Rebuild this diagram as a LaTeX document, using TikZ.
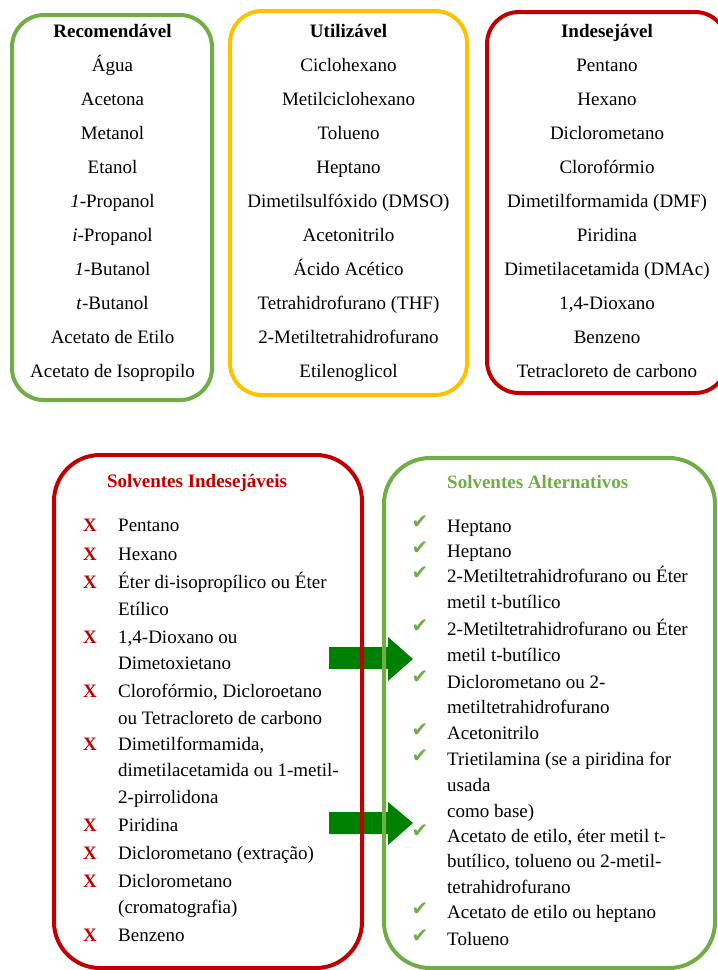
\documentclass[tikz,border=0pt]{standalone}
\usepackage{fontspec}
\setmainfont{Liberation Serif}
\newfontfamily\symfont{DejaVu Sans}
\definecolor{cgreen}{HTML}{70AD47}
\definecolor{cyellow}{HTML}{FFC000}
\definecolor{cred}{HTML}{C00000}
\definecolor{carrow}{HTML}{008000}
\tikzset{
  topbox/.style={line width=4pt, rounded corners=32pt},
  botbox/.style={line width=4pt, rounded corners=46pt},
  citem/.style={anchor=base, inner sep=0pt, font=\fontsize{19}{22}\selectfont},
  ctitle/.style={anchor=base, inner sep=0pt, font=\fontsize{19}{22}\selectfont\bfseries},
  litem/.style={anchor=base west, inner sep=0pt, font=\fontsize{19}{22}\selectfont},
  xmark/.style={anchor=base, inner sep=0pt, text=cred, font=\fontsize{19}{22}\selectfont\bfseries},
  cmark/.style={anchor=base, inner sep=0pt, text=cgreen, font=\symfont\fontsize{20}{24}\selectfont},
  blockarrow/.style={fill=carrow}
}
\begin{document}
\begin{tikzpicture}[x=1pt,y=-1pt]
\useasboundingbox (0,0) rectangle (718,970);
\clip (0,0) rectangle (718,970);

% ---------- top boxes ----------
\draw[topbox, cgreen] (12,15) rectangle (212,400);
\draw[topbox, cyellow] (230,11) rectangle (467,395);
\draw[topbox, cred] (487,12) rectangle (727,393);

\node[ctitle] (gt) at (112.5,37) {Recomendável};
\foreach \t [count=\i] in {Água, Acetona, Metanol, Etanol, {\textit{1}-Propanol}, {\textit{i}-Propanol}, {\textit{1}-Butanol}, {\textit{t}-Butanol}, Acetato de Etilo, Acetato de Isopropilo}
  \node[citem] (g\i) at (112.5,{37+34*\i}) {\t};

\node[ctitle] (yt) at (348.5,37) {Utilizável};
\foreach \t [count=\i] in {Ciclohexano, Metilciclohexano, Tolueno, Heptano, Dimetilsulfóxido (DMSO), Acetonitrilo, Ácido Acético, Tetrahidrofurano (THF), 2-Metiltetrahidrofurano, Etilenoglicol}
  \node[citem] (y\i) at (348.5,{37+34*\i}) {\t};

\node[ctitle] (rt) at (607,37) {Indesejável};
\foreach \t [count=\i] in {Pentano, Hexano, Diclorometano, Clorofórmio, Dimetilformamida (DMF), Piridina, Dimetilacetamida (DMAc), {1,4-Dioxano}, Benzeno, Tetracloreto de carbono}
  \node[citem] (r\i) at (607,{37+34*\i}) {\t};

% ---------- arrows (under the box lines) ----------
\fill[blockarrow] (329,647) -- (388,647) -- (388,637) -- (413,659) -- (388,681) -- (388,669) -- (329,669) -- cycle;
\fill[blockarrow] (329,812) -- (388,812) -- (388,802) -- (413,823) -- (388,845) -- (388,834) -- (329,834) -- cycle;

% ---------- bottom boxes ----------
\draw[botbox, cred] (54,455) rectangle (362,968);
\draw[botbox, cgreen] (384,458) rectangle (715,968);

\node[ctitle, text=cred] (lt) at (197,487) {Solventes Indesejáveis};
\node[ctitle, text=cgreen, anchor=base west] (rtt) at (447,488) {Solventes Alternativos};

% left list
\foreach \y [count=\k] in {531,560,588,643,697,750,831,859,887,941}
  \node[xmark] (x\k) at (90,\y) {X};
\node[litem] (l1) at (118,531) {Pentano};
\node[litem] (l2) at (118,560) {Hexano};
\node[litem] (l3) at (118,588) {Éter di-isopropílico ou Éter};
\node[litem] (l3b) at (118,615) {Etílico};
\node[litem] (l4) at (118,643) {1,4-Dioxano ou};
\node[litem] (l4b) at (118,669) {Dimetoxietano};
\node[litem] (l5) at (118,697) {Clorofórmio, Dicloroetano};
\node[litem] (l5b) at (118,724) {ou Tetracloreto de carbono};
\node[litem] (l6) at (118,750) {Dimetilformamida,};
\node[litem] (l6b) at (118,776) {dimetilacetamida ou 1-metil-};
\node[litem] (l6c) at (118,803) {2-pirrolidona};
\node[litem] (l7) at (118,831) {Piridina};
\node[litem] (l8) at (118,859) {Diclorometano (extração)};
\node[litem] (l9) at (118,887) {Diclorometano};
\node[litem] (l9b) at (118,913) {(cromatografia)};
\node[litem] (l10) at (118,941) {Benzeno};

% right list
\foreach \y [count=\k] in {531,557,582,635,686,739,765,840,918,945}
  \node[cmark] (c\k) at (420,{\y-3}) {✔};
\node[litem] (a1) at (447,532) {Heptano};
\node[litem] (a2) at (447,557) {Heptano};
\node[litem] (a3) at (447,582) {2-Metiltetrahidrofurano ou Éter};
\node[litem] (a3b) at (447,608) {metil t-butílico};
\node[litem] (a4) at (447,635) {2-Metiltetrahidrofurano ou Éter};
\node[litem] (a4b) at (447,661) {metil t-butílico};
\node[litem] (a5) at (447,688) {Diclorometano ou 2-};
\node[litem] (a5b) at (447,713) {metiltetrahidrofurano};
\node[litem] (a6) at (447,739) {Acetonitrilo};
\node[litem] (a7) at (447,765) {Trietilamina (se a piridina for};
\node[litem] (a7b) at (447,791) {usada};
\node[litem] (a7c) at (447,817) {como base)};
\node[litem] (a8) at (447,842) {Acetato de etilo, éter metil t-};
\node[litem] (a8b) at (447,867) {butílico, tolueno ou 2-metil-};
\node[litem] (a8c) at (447,893) {tetrahidrofurano};
\node[litem] (a9) at (447,918) {Acetato de etilo ou heptano};
\node[litem] (a10) at (447,945) {Tolueno};
\end{tikzpicture}
\end{document}
